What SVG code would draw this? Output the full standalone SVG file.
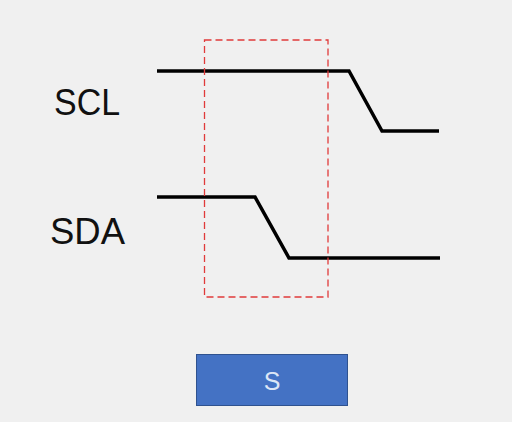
<svg xmlns="http://www.w3.org/2000/svg" width="512" height="422" viewBox="0 0 512 422">
<style>
.sig{fill:none;stroke:#000;stroke-width:3.5;stroke-linejoin:miter}
.lbl{font-family:"Liberation Sans",Arial,sans-serif;font-size:36px;fill:#111}
</style>
<rect width="512" height="422" fill="#f0f0f0"/>
<g id="connectors">
<polyline class="sig" points="157,71 349,71 382,131 439,131"/>
<polyline class="sig" points="157,197 255,197 289,258 440,258"/>
</g>
<g id="window">
<rect x="204.5" y="40" width="123.5" height="257" fill="none" stroke="#e03a3a" stroke-width="1.3" stroke-dasharray="7,4"/>
</g>
<g id="scl-label"><text class="lbl" x="54" y="115" textLength="66" lengthAdjust="spacingAndGlyphs">SCL</text></g>
<g id="sda-label"><text class="lbl" x="50" y="244" textLength="75" lengthAdjust="spacingAndGlyphs">SDA</text></g>
<g id="s-box">
<rect x="196.5" y="354.5" width="151" height="51" fill="#4472c4" stroke="#2f528f" stroke-width="1"/>
<text x="272" y="389.5" text-anchor="middle" font-family="Liberation Sans,Arial,sans-serif" font-size="25" fill="#dce6f6">S</text>
</g>
</svg>
